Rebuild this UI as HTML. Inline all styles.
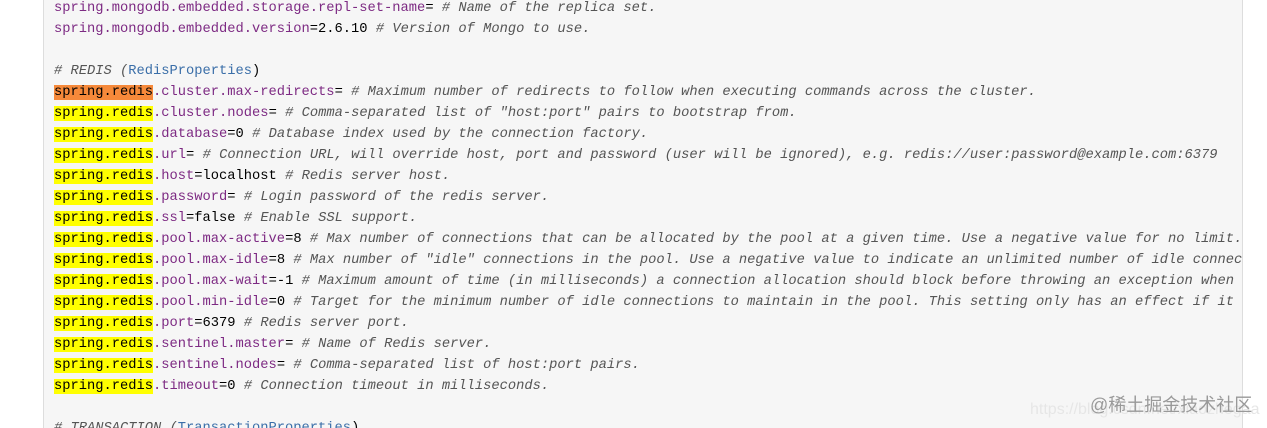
<!DOCTYPE html>
<html><head><meta charset="utf-8"><style>
html,body{margin:0;padding:0;width:1267px;height:428px;overflow:hidden;background:#fff;position:relative}
.box{position:absolute;left:43px;top:0;width:1198px;height:428px;background:#f6f6f6;border-left:1px solid #ddd;border-right:1px solid #ddd;overflow:hidden}
pre{position:absolute;left:10px;top:-2px;margin:0;font-family:"Liberation Mono",monospace;font-size:13.75px;line-height:21px;color:#000;white-space:pre}
.k{color:#7d2a83}.c{color:#555;font-style:italic}.b{color:#3a6ea8}
.y{background:#ffff00;color:#000}.o{background:#f6893a;color:#000}
.wm{position:absolute;left:1090px;top:391px;font-family:"Liberation Sans","Noto Sans CJK SC",sans-serif;font-size:18px;color:#999;white-space:nowrap}
.wm2{position:absolute;left:1030px;top:401px;font-family:"Liberation Sans",sans-serif;font-size:16px;color:#e6e6e6;white-space:nowrap}
</style></head><body>
<div class="box"><pre><span class="k">spring.mongodb.embedded.storage.repl-set-name</span>= <span class="c"># Name of the replica set.</span>
<span class="k">spring.mongodb.embedded.version</span>=2.6.10 <span class="c"># Version of Mongo to use.</span>

<span class="c"># REDIS (</span><span class="b">RedisProperties</span>)
<span class="o">spring.redis</span><span class="k">.cluster.max-redirects</span>= <span class="c"># Maximum number of redirects to follow when executing commands across the cluster.</span>
<span class="y">spring.redis</span><span class="k">.cluster.nodes</span>= <span class="c"># Comma-separated list of "host:port" pairs to bootstrap from.</span>
<span class="y">spring.redis</span><span class="k">.database</span>=0 <span class="c"># Database index used by the connection factory.</span>
<span class="y">spring.redis</span><span class="k">.url</span>= <span class="c"># Connection URL, will override host, port and password (user will be ignored), e.g. redis://user:password@example.com:6379</span>
<span class="y">spring.redis</span><span class="k">.host</span>=localhost <span class="c"># Redis server host.</span>
<span class="y">spring.redis</span><span class="k">.password</span>= <span class="c"># Login password of the redis server.</span>
<span class="y">spring.redis</span><span class="k">.ssl</span>=false <span class="c"># Enable SSL support.</span>
<span class="y">spring.redis</span><span class="k">.pool.max-active</span>=8 <span class="c"># Max number of connections that can be allocated by the pool at a given time. Use a negative value for no limit.</span>
<span class="y">spring.redis</span><span class="k">.pool.max-idle</span>=8 <span class="c"># Max number of "idle" connections in the pool. Use a negative value to indicate an unlimited number of idle connections.</span>
<span class="y">spring.redis</span><span class="k">.pool.max-wait</span>=-1 <span class="c"># Maximum amount of time (in milliseconds) a connection allocation should block before throwing an exception when the pool is exhausted.</span>
<span class="y">spring.redis</span><span class="k">.pool.min-idle</span>=0 <span class="c"># Target for the minimum number of idle connections to maintain in the pool. This setting only has an effect if it is positive.</span>
<span class="y">spring.redis</span><span class="k">.port</span>=6379 <span class="c"># Redis server port.</span>
<span class="y">spring.redis</span><span class="k">.sentinel.master</span>= <span class="c"># Name of Redis server.</span>
<span class="y">spring.redis</span><span class="k">.sentinel.nodes</span>= <span class="c"># Comma-separated list of host:port pairs.</span>
<span class="y">spring.redis</span><span class="k">.timeout</span>=0 <span class="c"># Connection timeout in milliseconds.</span>

<span class="c"># TRANSACTION (</span><span class="b">TransactionProperties</span>)</pre></div>
<div class="wm2">https://blog.csdn.net/xiaozhegaa</div>
<div class="wm">@稀土掘金技术社区</div>
</body></html>
